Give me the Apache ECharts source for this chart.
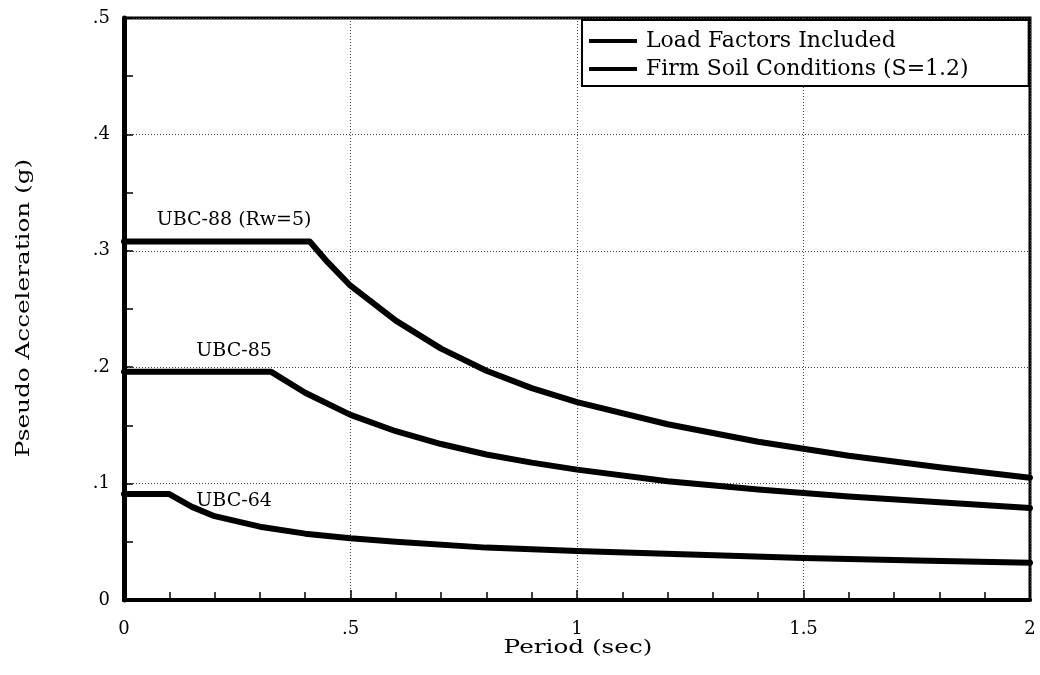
<!DOCTYPE html>
<html>
<head>
<meta charset="utf-8">
<script src="https://cdn.jsdelivr.net/npm/echarts@6/dist/echarts.min.js"></script>
<style>
  html, body { margin: 0; padding: 0; background: #fff; }
  #chart { width: 1040px; height: 675px; }
</style>
</head>
<body>
<div id="chart"></div>
<script>
// values: [period (sec), pseudo acceleration (g)]
const ubc88 = [
  [0, 0.308], [0.41, 0.308], [0.45, 0.290], [0.5, 0.270], [0.6, 0.240], [0.7, 0.216],
  [0.8, 0.197], [0.9, 0.182], [1.0, 0.170], [1.2, 0.151], [1.4, 0.136],
  [1.6, 0.124], [1.8, 0.114], [2.0, 0.105]
]
const ubc85 = [
  [0, 0.196], [0.325, 0.196], [0.4, 0.178], [0.5, 0.159], [0.6, 0.145],
  [0.7, 0.134], [0.8, 0.125], [0.9, 0.118], [1.0, 0.112], [1.2, 0.102],
  [1.4, 0.095], [1.6, 0.089], [1.8, 0.084], [2.0, 0.079]
]
const ubc64 = [
  [0, 0.091], [0.1, 0.091], [0.15, 0.080], [0.2, 0.072], [0.3, 0.063],
  [0.4, 0.057], [0.5, 0.053], [0.6, 0.050], [0.8, 0.045], [1.0, 0.042],
  [1.25, 0.039], [1.5, 0.036], [1.75, 0.034], [2.0, 0.032]
]
const curveNames = ['UBC-88 (Rw=5)', 'UBC-85', 'UBC-64']
const legendNotes = ['Load Factors Included', 'Firm Soil Conditions (S=1.2)']
const xTickLabels = ['0', '.5', '1', '1.5', '2']
const yTickLabels = ['0', '.1', '.2', '.3', '.4', '.5']
const xTitle = 'Period (sec)'
const yTitle = 'Pseudo Acceleration (g)'

const FONT = 'DejaVu Serif'

const chart = echarts.init(document.getElementById('chart'))

// curve with its name written next to it
function curve(name, data, labelAt) {
  return {
    name: name,
    type: 'line',
    data: data,
    symbol: 'none',
    silent: true,
    legendHoverLink: false,
    lineStyle: { color: '#000', width: 6, cap: 'round', join: 'round' },
    markPoint: {
      symbol: 'circle',
      symbolSize: 1,
      silent: true,
      itemStyle: { color: 'transparent' },
      label: {
        show: true,
        formatter: name,
        position: 'inside',
        color: '#000',
        fontFamily: FONT,
        fontSize: 19
      },
      data: [{ coord: labelAt }]
    }
  }
}

const option = {
  animation: false,
  backgroundColor: '#fff',
  grid: {
    left: 124, right: 10, top: 18, bottom: 75,
    show: true,
    borderColor: '#000',
    borderWidth: 3
  },
  legend: {
    orient: 'vertical',
    left: 582,
    top: 20,
    data: legendNotes,
    icon: 'rect',
    itemWidth: 48,
    itemHeight: 4,
    itemGap: 6,
    padding: [10, 60, 6, 7],
    backgroundColor: '#fff',
    borderColor: '#000',
    borderWidth: 2,
    selectedMode: false,
    textStyle: { color: '#000', fontFamily: FONT, fontSize: 22, padding: [0, 0, 0, 4] }
  },
  // axis titles: the original lettering is wide, so stretch it horizontally
  graphic: [
    {
      type: 'text',
      x: 578, y: 648,
      scaleX: 1.3,
      style: { text: xTitle, fill: '#000', font: '19px "DejaVu Serif"', align: 'center', verticalAlign: 'middle' }
    },
    {
      type: 'text',
      x: 24, y: 308,
      rotation: Math.PI / 2,
      scaleX: 1.3,
      style: { text: yTitle, fill: '#000', font: '19px "DejaVu Serif"', align: 'center', verticalAlign: 'middle' }
    }
  ],
  xAxis: {
    type: 'value',
    min: 0, max: 2, interval: 0.5,
    axisLine: { lineStyle: { color: '#000', width: 4 } },
    axisTick: { show: true, inside: true, length: 10, lineStyle: { color: '#000', width: 1.5 } },
    minorTick: { show: true, splitNumber: 5, length: 8, lineStyle: { color: '#000', width: 1.5 } },
    axisLabel: {
      color: '#000', fontFamily: FONT, fontSize: 18, margin: 20,
      formatter: (v, i) => xTickLabels[i]
    },
    splitLine: { show: true, lineStyle: { color: '#444', type: [1, 2], width: 1 } }
  },
  yAxis: {
    type: 'value',
    min: 0, max: 0.5, interval: 0.1,
    axisLine: { show: true, lineStyle: { color: '#000', width: 5 } },
    axisTick: { show: true, inside: true, length: 9, lineStyle: { color: '#000', width: 1.5 } },
    minorTick: { show: true, splitNumber: 2, length: 9, lineStyle: { color: '#000', width: 1.5 } },
    axisLabel: {
      color: '#000', fontFamily: FONT, fontSize: 18, margin: 14,
      formatter: (v, i) => yTickLabels[i]
    },
    splitLine: { show: true, lineStyle: { color: '#444', type: [1, 2], width: 1 } }
  },
  series: [
    curve(curveNames[0], ubc88, [0.243, 0.326]),
    curve(curveNames[1], ubc85, [0.243, 0.214]),
    curve(curveNames[2], ubc64, [0.243, 0.085]),
    // legend notes: keys only, nothing plotted
    { name: legendNotes[0], type: 'line', data: [], symbol: 'none', itemStyle: { color: '#000' }, lineStyle: { color: '#000', width: 4 } },
    { name: legendNotes[1], type: 'line', data: [], symbol: 'none', itemStyle: { color: '#000' }, lineStyle: { color: '#000', width: 4 } }
  ]
}

chart.setOption(option)

window.addEventListener('resize', () => {
  chart.resize()
})
</script>
</body>
</html>
